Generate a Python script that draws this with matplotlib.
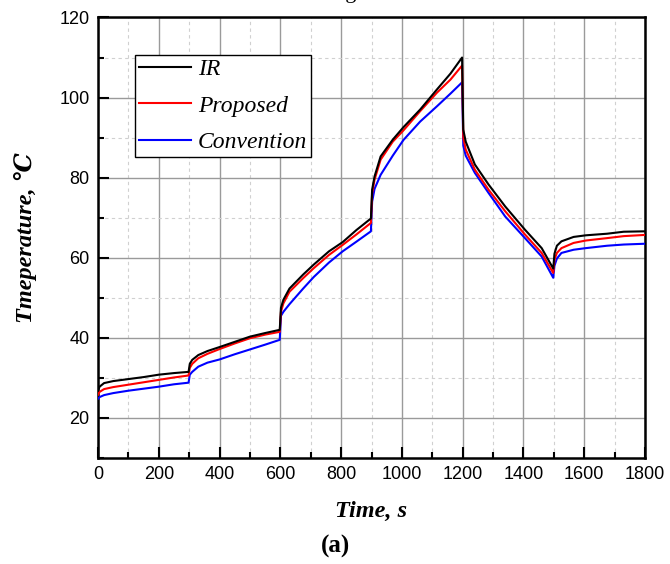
import numpy as np
import matplotlib.pyplot as plt
from matplotlib.ticker import MultipleLocator

# time axis (s); doubled points around 300/600/900/1200/1500 carry the step changes
time = [0, 5, 20, 50, 100, 150, 200, 250, 298, 302, 310, 330, 360, 400, 450, 500, 550,
        598, 602, 610, 630, 675, 710, 760, 805, 850, 898, 902, 910, 930, 970, 1005, 1060,
        1115, 1160, 1198, 1202, 1210, 1240, 1285, 1340, 1405, 1460, 1498, 1502, 1510, 1525,
        1565, 1605, 1675, 1730, 1800]

ir = [26.8, 27.8, 28.7, 29.2, 29.7, 30.2, 30.8, 31.2, 31.5, 33.5, 34.5, 35.7, 36.7, 37.7,
      39.0, 40.3, 41.2, 42.0, 47.5, 49.5, 52.3, 55.8, 58.3, 61.6, 63.9, 66.9, 69.8, 77.0,
      80.3, 85.3, 89.5, 92.6, 97.0, 102.0, 106.0, 110.0, 92.0, 89.0, 83.3, 78.3, 72.8, 67.0,
      62.4, 57.3, 61.0, 63.0, 64.1, 65.2, 65.6, 66.0, 66.5, 66.6]

proposed = [25.8, 26.5, 27.2, 27.7, 28.3, 28.9, 29.5, 30.1, 30.6, 32.5, 33.5, 34.9, 36.0,
            37.2, 38.6, 39.9, 40.8, 41.5, 46.5, 48.6, 51.5, 54.9, 57.4, 60.7, 63.2, 65.8,
            68.7, 76.0, 79.5, 84.5, 89.0, 91.8, 96.6, 101.2, 104.5, 108.0, 90.0, 87.0, 82.0,
            77.0, 71.6, 65.8, 61.2, 56.2, 59.5, 61.2, 62.4, 63.7, 64.3, 64.9, 65.4, 65.7]

convention = [24.8, 25.2, 25.7, 26.2, 26.8, 27.3, 27.8, 28.4, 28.8, 30.8, 31.5, 32.8, 33.8,
              34.6, 35.9, 37.1, 38.3, 39.5, 45.5, 46.5, 48.4, 52.3, 55.2, 58.8, 61.6, 64.0,
              66.6, 74.0, 77.2, 80.7, 85.5, 89.4, 94.0, 97.8, 101.0, 103.8, 88.0, 85.5, 81.2,
              76.2, 70.3, 64.9, 60.3, 55.0, 58.0, 59.8, 61.2, 62.0, 62.4, 63.0, 63.3, 63.5]

serif = ["Liberation Serif", "DejaVu Serif"]

fig = plt.figure(figsize=(6.7, 5.64), dpi=100)
ax = fig.add_axes([0.1463, 0.188, 0.8164, 0.781])

ax.plot(time, ir, color="black", lw=1.5, label="IR", zorder=5)
ax.plot(time, proposed, color="red", lw=1.5, label="Proposed", zorder=4)
ax.plot(time, convention, color="blue", lw=1.5, label="Convention", zorder=3)

ax.set_xlim(0, 1800)
ax.set_ylim(10, 120)
ax.xaxis.set_major_locator(MultipleLocator(200))
ax.xaxis.set_minor_locator(MultipleLocator(100))
ax.yaxis.set_major_locator(MultipleLocator(20))
ax.yaxis.set_minor_locator(MultipleLocator(10))

ax.grid(which="major", color="#9a9a9a", lw=1.0, ls="-")
ax.grid(which="minor", color="#d0d0d0", lw=0.8, ls=(0, (3, 3)))
ax.set_axisbelow(True)

ax.tick_params(which="major", direction="in", length=8, width=1.5,
               labelsize=13, top=False, right=False, pad=6)
ax.tick_params(which="minor", direction="in", length=4.5, width=1.5,
               top=False, right=False)
for lab in ax.get_xticklabels() + ax.get_yticklabels():
    lab.set_family("Liberation Sans")
for sp in ax.spines.values():
    sp.set_linewidth(1.8)
    sp.set_color("black")

ax.set_xlabel("Time, s", family=serif, fontsize=17.5, fontweight="bold",
              style="italic", labelpad=13)
ax.set_ylabel("Tmeperature, \u2103", family=serif, fontsize=17.5, fontweight="bold",
              style="italic", labelpad=16)

leg = ax.legend(loc="upper left", bbox_to_anchor=(0.068, 0.915), borderaxespad=0,
                prop={"family": serif, "style": "italic", "size": 17},
                fancybox=False, framealpha=1, edgecolor="black",
                handlelength=2.2, handletextpad=0.3, borderpad=0.15,
                labelspacing=0.64)
leg.get_frame().set_linewidth(1.0)

fig.text(357 / 670, 1 + 2 / 564, "Heating", ha="right", va="baseline",
         family=serif, fontsize=16)
fig.text(0.5, 0.01, "(a)", ha="center", va="bottom", family=serif,
         fontsize=18, fontweight="bold")

fig.savefig("out.png", dpi=100)
